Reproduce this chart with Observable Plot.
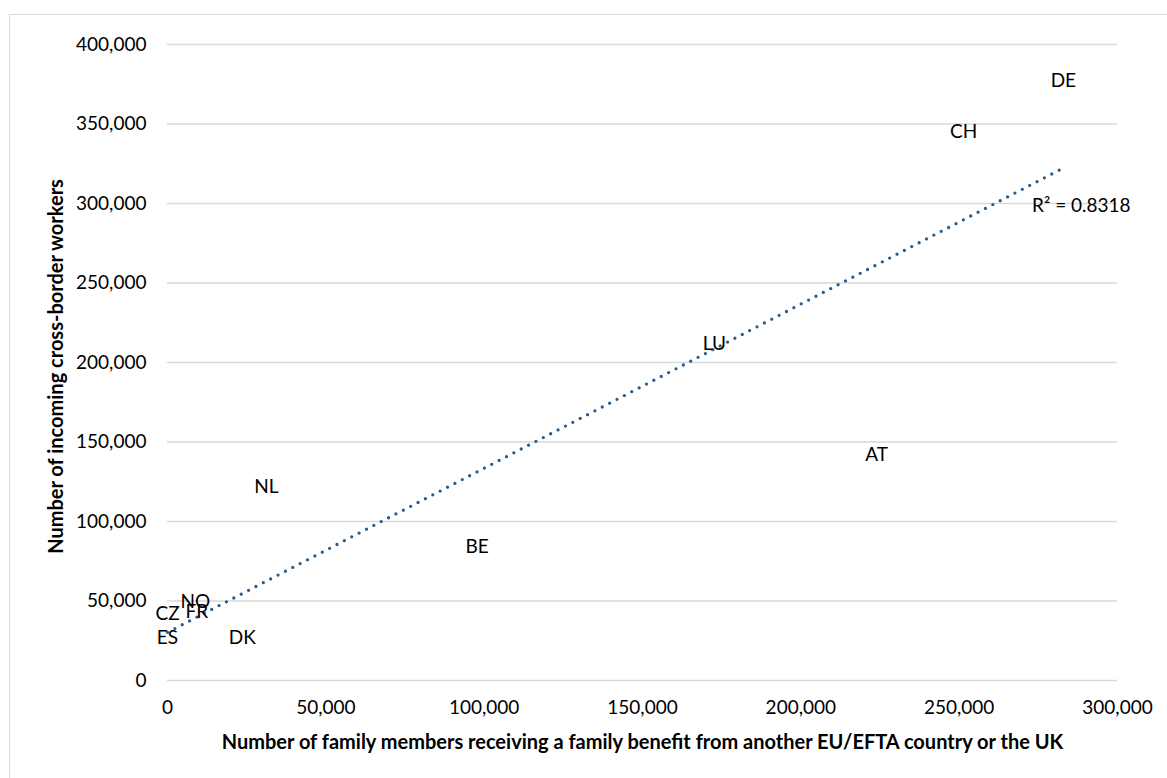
<!DOCTYPE html>
<html><head><meta charset="utf-8">
<script src="https://cdn.jsdelivr.net/npm/d3@7"></script>
<script src="https://cdn.jsdelivr.net/npm/@observablehq/plot@0.6"></script>
<style>
body{margin:0;background:#fff;overflow:hidden;}
#wrap{position:relative;width:1167px;height:778px;}
#chart{position:absolute;left:0;top:0;}
#border{position:absolute;left:9px;top:14px;width:1200px;height:800px;border:1.5px solid #d9d9d9;box-sizing:border-box;pointer-events:none;}
</style></head><body>
<div id="wrap"><div id="chart"></div><div id="border"></div></div>
<script>
const countries = ["DE","CH","LU","AT","NL","BE","NO","FR","CZ","ES","DK"];
const familyMembers = [282900,251400,172700,223900,31200,97800,8800,9300,0,0,23600];
const crossBorderWorkers = [377400,344800,212000,142100,121600,84300,49300,43000,42000,26900,26900];
const xTicks = [0,50000,100000,150000,200000,250000,300000];
const yTicks = [0,50000,100000,150000,200000,250000,300000,350000,400000];
const xTitle = "Number of family members receiving a family benefit from another EU/EFTA country or the UK";
const yTitle = "Number of incoming cross-border workers";
const rSquaredLabel = "R² = 0.8318";

const data = countries.map((c,i)=>({country:c, x:familyMembers[i], y:crossBorderWorkers[i]}));
// least squares trendline
const mx = d3.mean(familyMembers), my = d3.mean(crossBorderWorkers);
const sxy = d3.sum(data, d => (d.x-mx)*(d.y-my));
const sxx = d3.sum(data, d => (d.x-mx)**2);
const slope = sxy/sxx, intercept = my - slope*mx;
const [xmin, xmax] = d3.extent(familyMembers);
const trend = [xmin, xmax].map(x => ({x, y: intercept + slope*x}));

const fmt = d3.format(",");
const chart = Plot.plot({
  width: 1167,
  height: 778,
  marginLeft: 167,
  marginRight: 50,
  marginTop: 44,
  marginBottom: 98,
  style: {fontFamily: "Lato", fontSize: "19px", color: "#000", background: "transparent"},
  x: {domain: [0, 300000]},
  y: {domain: [0, 400000]},
  marks: [
    Plot.ruleY(yTicks, {stroke: "#d9d9d9", strokeWidth: 1.5}),
    Plot.axisY({ticks: yTicks, tickSize: 0, tickPadding: 21, tickFormat: fmt, fontSize: 19, label: null}),
    Plot.axisX({ticks: xTicks, tickSize: 0, tickPadding: 20, tickFormat: fmt, fontSize: 19, label: null}),
    Plot.line(trend, {x: "x", y: "y", stroke: "#275d8f", strokeWidth: 3.3, strokeDasharray: "0,8.3", strokeLinecap: "round"}),
    Plot.text(data, {x: "x", y: "y", text: "country", fontSize: 19, fill: "#000"}),
    Plot.text([rSquaredLabel], {x: trend[1].x, y: trend[1].y, dx: 18, dy: 38, fontSize: 19, fill: "#000"}),
    Plot.text([xTitle], {frameAnchor: "bottom", lineAnchor: "middle", textAnchor: "middle", dy: 62, fontWeight: "bold", fontSize: 20, fill: "#000"}),
    Plot.text([yTitle], {frameAnchor: "left", lineAnchor: "middle", textAnchor: "middle", dx: -111, dy: 4, rotate: -90, fontWeight: "bold", fontSize: 20, fill: "#000"})
  ]
});
document.getElementById("chart").appendChild(chart);
</script>
</body></html>
